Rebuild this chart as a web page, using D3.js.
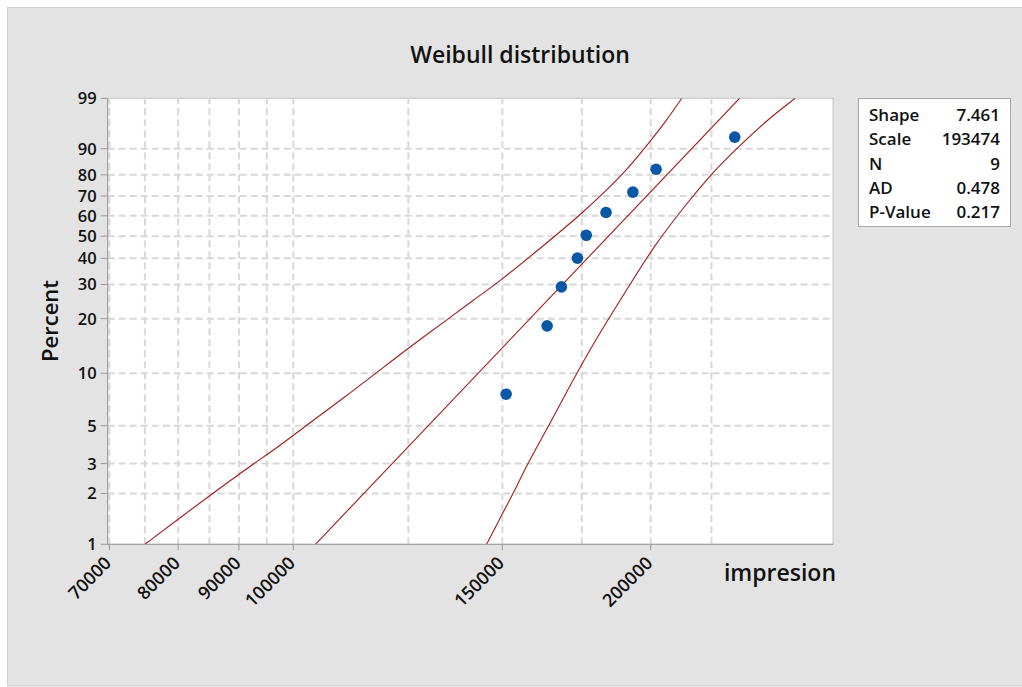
<!DOCTYPE html>
<html>
<head>
<meta charset="utf-8">
<script src="https://cdn.jsdelivr.net/npm/d3@7"></script>
<style>
  body { margin: 0; background: #ffffff; }
  text { font-family: "Open Sans", "Noto Sans", sans-serif; fill: #111; }
</style>
</head>
<body>
<svg id="plot" width="1022" height="687"></svg>
<script>
//data
let xTicks = [70000, 80000, 90000, 100000, 150000, 200000];
let xMinor = [75000, 85000, 95000, 125000, 175000, 225000];
let yTicks = [1, 2, 3, 5, 10, 20, 30, 40, 50, 60, 70, 80, 90, 99];

//the sample (impresion) and its plotted percent
let impresion = [151100, 163600, 168200, 173500, 176500, 183400, 193200, 202100, 235400];
let percent = [7.6, 18.3, 29.2, 40.1, 50.4, 61.7, 71.9, 82.4, 93.3];

//fitted line ends
let fitImp = [104400, 237600];
let fitPct = [1, 99];

//upper (left) confidence band
let upperImp = [75000, 80000, 90000, 97470, 102640, 110200, 118300, 125400, 134700, 141800, 149100, 163500, 174400, 183650, 190900, 199700, 206300, 212400];
let upperPct = [1, 1.41, 2.61, 3.82, 5.04, 7.2, 10.42, 14.07, 19.67, 25.05, 30.96, 46.8, 60.4, 72.9, 82.1, 92.1, 96.7, 99];

//lower (right) confidence band
let lowerImp = [145500, 150300, 153200, 157300, 164500, 167700, 177800, 190900, 201000, 214500, 225800, 236300, 250500, 264600];
let lowerPct = [1, 1.56, 2.0, 2.94, 5.16, 6.59, 13.79, 28.15, 45.1, 66.3, 81.4, 90.1, 96.7, 99];

//stats table
let statNames = ["Shape", "Scale", "N", "AD", "P-Value"];
let statValues = ["7.461", "193474", "9", "0.478", "0.217"];

let svg = d3.select("#plot");

//panel bounds
let plot_left = 107.7, plot_right = 833, plot_top = 98.3, plot_bottom = 544.3;

//grey panel
svg.append("rect")
  .attr("x", 7.5).attr("y", 7.5)
  .attr("width", 1020).attr("height", 678.5)
  .attr("fill", "#e3e3e3")
  .attr("stroke", "#cfcfcf");

//weibull percent transform
let wb = (p) => Math.log(-Math.log(1 - p / 100));

let x_scale = d3.scaleLog([69780, 284800], [plot_left, plot_right]);
let y_lin = d3.scaleLinear([wb(1), wb(99)], [plot_bottom, plot_top]);
let y_scale = (p) => y_lin(wb(p));

//plot area
svg.append("rect")
  .attr("x", plot_left).attr("y", plot_top)
  .attr("width", plot_right - plot_left).attr("height", plot_bottom - plot_top)
  .attr("fill", "white")
  .attr("stroke", "#c4c4c4");

svg.append("clipPath").attr("id", "clip")
  .append("rect")
  .attr("x", plot_left).attr("y", plot_top)
  .attr("width", plot_right - plot_left).attr("height", plot_bottom - plot_top);

//grid
let grid = svg.append("g")
  .attr("stroke", "#d8d8d8")
  .attr("stroke-width", 2)
  .attr("stroke-dasharray", "7,4");

grid.selectAll(".vg")
  .data(xTicks.concat(xMinor))
  .join("line")
  .attr("x1", d => x_scale(d)).attr("x2", d => x_scale(d))
  .attr("y1", plot_bottom).attr("y2", plot_top);

grid.selectAll(".hg")
  .data(yTicks.filter(d => d != 1 && d != 99))
  .join("line")
  .attr("y1", d => y_scale(d)).attr("y2", d => y_scale(d))
  .attr("x1", plot_left).attr("x2", plot_right);

//lines
let gLines = svg.append("g").attr("clip-path", "url(#clip)")
  .attr("fill", "none")
  .attr("stroke", "#9e1c1c")
  .attr("stroke-width", 1.1);

let line = d3.line().x(d => x_scale(d[0])).y(d => y_scale(d[1])).curve(d3.curveBasis);

gLines.append("path").attr("d", line(d3.zip(upperImp, upperPct)));
gLines.append("path").attr("d", line(d3.zip(fitImp, fitPct)));
gLines.append("path").attr("d", line(d3.zip(lowerImp, lowerPct)));

//points
svg.append("g")
  .selectAll("circle")
  .data(d3.zip(impresion, percent))
  .join("circle")
  .attr("cx", d => x_scale(d[0]))
  .attr("cy", d => y_scale(d[1]))
  .attr("r", 5.8)
  .attr("fill", "#0a57a6");

//axes lines
let ax = svg.append("g").attr("stroke", "#9a9a9a").attr("stroke-width", 1);
ax.append("line").attr("x1", plot_left).attr("x2", plot_left).attr("y1", plot_top).attr("y2", plot_bottom);
ax.append("line").attr("x1", plot_left).attr("x2", plot_right).attr("y1", plot_bottom).attr("y2", plot_bottom);

//y axis ticks and labels
let yAx = svg.append("g");
yAx.selectAll("line")
  .data(yTicks)
  .join("line")
  .attr("x1", plot_left - 7).attr("x2", plot_left)
  .attr("y1", d => y_scale(d)).attr("y2", d => y_scale(d))
  .attr("stroke", "#9a9a9a");
yAx.selectAll("text")
  .data(yTicks)
  .join("text")
  .attr("x", plot_left - 11)
  .attr("y", d => y_scale(d))
  .attr("dy", "0.36em")
  .attr("text-anchor", "end")
  .attr("font-size", 16.5)
  .attr("font-weight", 600)
  .text(d => d);

//x axis ticks and labels
let xAx = svg.append("g");
xAx.selectAll("line")
  .data(xTicks)
  .join("line")
  .attr("x1", d => x_scale(d)).attr("x2", d => x_scale(d))
  .attr("y1", plot_bottom).attr("y2", plot_bottom + 6)
  .attr("stroke", "#9a9a9a");
xAx.selectAll("text")
  .data(xTicks)
  .join("text")
  .attr("text-anchor", "end")
  .attr("font-size", 18)
  .attr("font-weight", 600)
  .attr("transform", d => `translate(${x_scale(d) + 3},${plot_bottom + 20}) rotate(-45)`)
  .text(d => d);

//title and axis labels
svg.append("text")
  .attr("x", 520).attr("y", 63)
  .attr("text-anchor", "middle")
  .attr("font-size", 23)
  .attr("font-weight", 600)
  .text("Weibull distribution");

svg.append("text")
  .attr("x", 836).attr("y", 581)
  .attr("text-anchor", "end")
  .attr("font-size", 23)
  .attr("font-weight", 600)
  .text("impresion");

svg.append("text")
  .attr("text-anchor", "middle")
  .attr("font-size", 22)
  .attr("font-weight", 600)
  .attr("transform", `translate(58,321) rotate(-90)`)
  .text("Percent");

//stats box
let box = svg.append("g");
box.append("rect")
  .attr("x", 858.5).attr("y", 98.5)
  .attr("width", 152).attr("height", 128)
  .attr("fill", "white")
  .attr("stroke", "#a8a8a8");
box.selectAll(".nm")
  .data(statNames)
  .join("text")
  .attr("x", 869)
  .attr("y", (d, i) => 115 + i * 24.2)
  .attr("dy", "0.36em")
  .attr("font-size", 17)
  .attr("font-weight", 600)
  .text(d => d);
box.selectAll(".vl")
  .data(statValues)
  .join("text")
  .attr("x", 1000)
  .attr("y", (d, i) => 115 + i * 24.2)
  .attr("dy", "0.36em")
  .attr("text-anchor", "end")
  .attr("font-size", 17)
  .attr("font-weight", 600)
  .text(d => d);
</script>
</body>
</html>
